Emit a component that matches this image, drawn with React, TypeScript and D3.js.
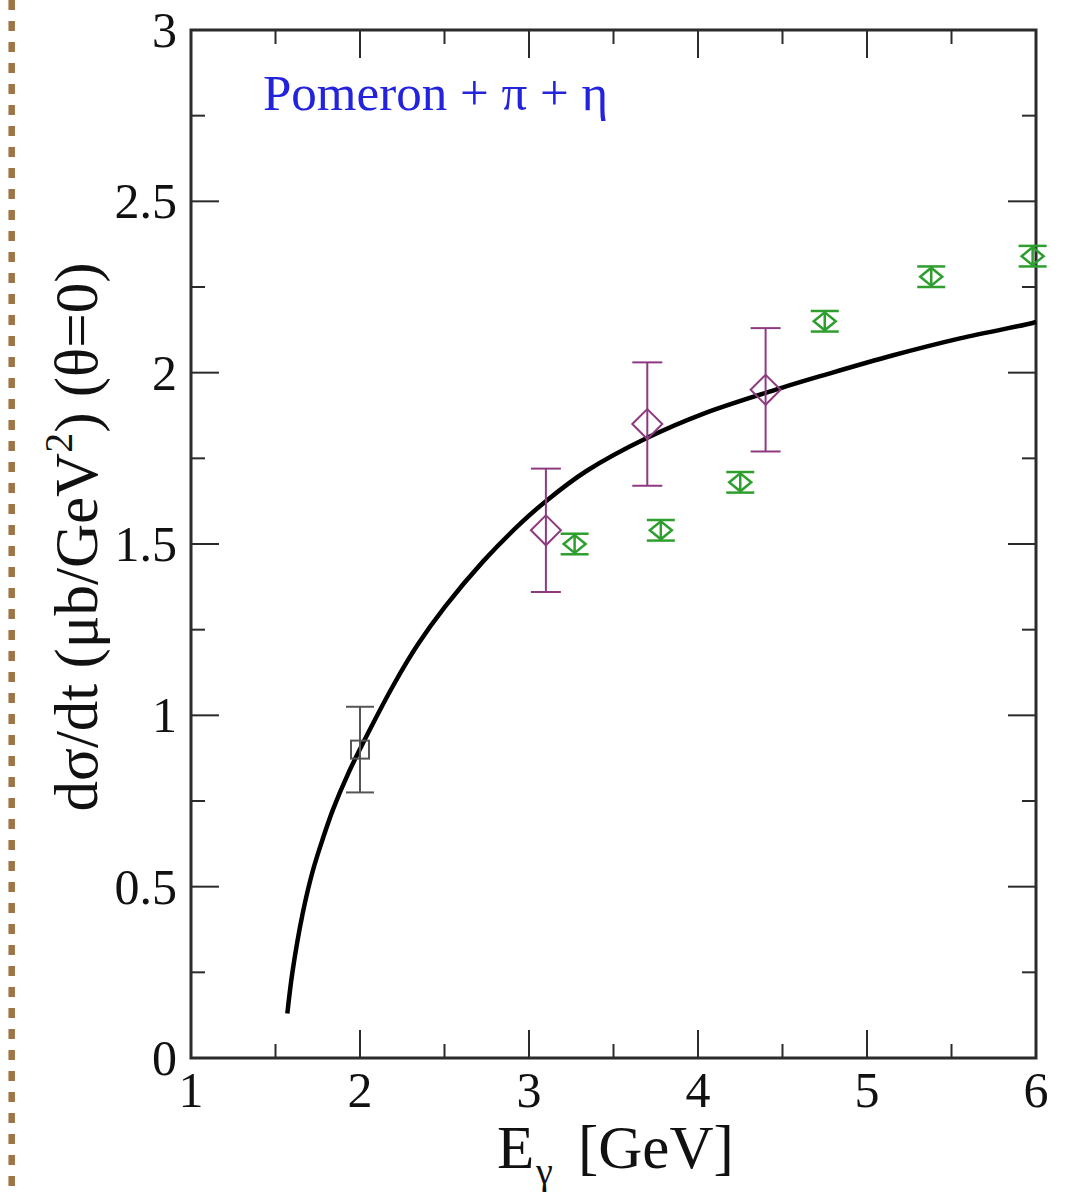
import React from "react";
import * as d3 from "d3";

// Model curve: photon energy (GeV) and forward cross section (µb/GeV²)
const curveEnergy = [1.57, 1.6, 1.66, 1.72, 1.78, 1.84, 1.93, 2.06, 2.2, 2.34, 2.5, 2.73, 2.95, 3.1, 3.34, 3.7, 4.03, 4.49, 4.76, 5.15, 5.55, 5.98, 6.0];
const curveSigma = [0.13, 0.25, 0.42, 0.545, 0.64, 0.725, 0.83, 0.96, 1.09, 1.205, 1.315, 1.45, 1.56, 1.625, 1.713, 1.81, 1.88, 1.955, 1.995, 2.05, 2.1, 2.145, 2.148];

// Data set A (open square)
const squareEnergy = [2.0];
const squareSigma = [0.9];
const squareErr = [0.125];

// Data set B (purple diamonds)
const purpleEnergy = [3.1, 3.7, 4.4];
const purpleSigma = [1.54, 1.85, 1.95];
const purpleErr = [0.18, 0.18, 0.18];

// Data set C (green diamonds)
const greenEnergy = [3.27, 3.78, 4.25, 4.75, 5.38, 5.98];
const greenSigma = [1.5, 1.54, 1.68, 2.15, 2.28, 2.34];
const greenErr = [0.03, 0.03, 0.03, 0.03, 0.03, 0.03];

const xTicks = [1, 2, 3, 4, 5, 6];
const yTicks = [0, 0.5, 1, 1.5, 2, 2.5, 3];
const yTickLabels = ["0", "0.5", "1", "1.5", "2", "2.5", "3"];

const W = 1068;
const H = 1197;
const LEFT = 191;
const RIGHT = 1036;
const TOP = 30;
const BOTTOM = 1058;

const FONT = "'Liberation Serif', 'Times New Roman', serif";

export default function App() {
  const x = d3.scaleLinear().domain([1, 6]).range([LEFT, RIGHT]);
  const y = d3.scaleLinear().domain([0, 3]).range([BOTTOM, TOP]);

  const xMinor = d3.range(1.5, 6, 1);
  const yMinor = d3.range(0.25, 3, 0.5);

  const curvePts = curveEnergy.map((e, i) => [e, curveSigma[i]] as [number, number]);
  const line = d3
    .line<[number, number]>()
    .x((d) => x(d[0]))
    .y((d) => y(d[1]))
    .curve(d3.curveCatmullRom.alpha(0.5));

  const axisColor = "#2b2b2b";
  const majorLen = 28;
  const minorLen = 14;

  const errBar = (
    cx: number,
    v: number,
    err: number,
    capHalf: number,
    color: string,
    sw: number,
    key: string
  ) => (
    <g key={key} stroke={color} strokeWidth={sw} fill="none">
      <line x1={cx} x2={cx} y1={y(v + err)} y2={y(v - err)} />
      <line x1={cx - capHalf} x2={cx + capHalf} y1={y(v + err)} y2={y(v + err)} />
      <line x1={cx - capHalf} x2={cx + capHalf} y1={y(v - err)} y2={y(v - err)} />
    </g>
  );

  const diamond = (cx: number, cy: number, hw: number, hh: number) =>
    `M${cx - hw},${cy}L${cx},${cy - hh}L${cx + hw},${cy}L${cx},${cy + hh}Z`;

  return (
    <svg
      width={W}
      height={H}
      style={{ position: "absolute", left: 0, top: 0, background: "#fff" }}
      fontFamily={FONT}
    >
      <rect x={0} y={0} width={W} height={H} fill="#fff" />
      {/* dotted page border on the left */}
      <line
        x1={11.7}
        x2={11.7}
        y1={0}
        y2={H}
        stroke="#9e7645"
        strokeWidth={6.5}
        strokeDasharray="10 11"
      />

      {/* ticks on all four sides */}
      <g stroke={axisColor} strokeWidth={2}>
        {xTicks.map((t) => (
          <g key={"xt" + t}>
            <line x1={x(t)} x2={x(t)} y1={BOTTOM} y2={BOTTOM - majorLen} />
            <line x1={x(t)} x2={x(t)} y1={TOP} y2={TOP + majorLen} />
          </g>
        ))}
        {xMinor.map((t) => (
          <g key={"xm" + t}>
            <line x1={x(t)} x2={x(t)} y1={BOTTOM} y2={BOTTOM - minorLen} />
            <line x1={x(t)} x2={x(t)} y1={TOP} y2={TOP + minorLen} />
          </g>
        ))}
        {yTicks.map((t) => (
          <g key={"yt" + t}>
            <line x1={LEFT} x2={LEFT + majorLen} y1={y(t)} y2={y(t)} />
            <line x1={RIGHT} x2={RIGHT - majorLen} y1={y(t)} y2={y(t)} />
          </g>
        ))}
        {yMinor.map((t) => (
          <g key={"ym" + t}>
            <line x1={LEFT} x2={LEFT + minorLen} y1={y(t)} y2={y(t)} />
            <line x1={RIGHT} x2={RIGHT - minorLen} y1={y(t)} y2={y(t)} />
          </g>
        ))}
      </g>

      {/* frame */}
      <rect
        x={LEFT}
        y={TOP}
        width={RIGHT - LEFT}
        height={BOTTOM - TOP}
        fill="none"
        stroke={axisColor}
        strokeWidth={3}
      />

      {/* tick labels */}
      <g fontSize={50} fill="#111">
        {xTicks.map((t) => (
          <text key={"xl" + t} x={x(t)} y={BOTTOM + 49} textAnchor="middle">
            {t}
          </text>
        ))}
        {yTicks.map((t, i) => (
          <text
            key={"yl" + t}
            x={LEFT - 14}
            y={y(t)}
            textAnchor="end"
            dominantBaseline="central"
          >
            {yTickLabels[i]}
          </text>
        ))}
      </g>

      {/* axis titles */}
      <text y={1168} fontSize={61} fill="#111">
        <tspan x={497}>E</tspan>
        <tspan x={536} fontSize={38} dy={16}>
          γ
        </tspan>
        <tspan x={578} dy={-16}>
          [GeV]
        </tspan>
      </text>
      <text
        transform={`translate(97,537) rotate(-90)`}
        fontSize={61}
        textAnchor="middle"
        fill="#111"
      >
        dσ/dt (μb/GeV
        <tspan fontSize={40} dy={-25}>
          2
        </tspan>
        <tspan dy={25}>) (θ=0)</tspan>
      </text>

      {/* annotation */}
      <text x={263} y={110} fontSize={51} fill="#2323dd">
        Pomeron + π + η
      </text>

      {/* model curve */}
      <path d={line(curvePts) || ""} fill="none" stroke="#000" strokeWidth={4.5} />

      {/* data set A */}
      {squareEnergy.map((e, i) => {
        const cx = x(e);
        const cy = y(squareSigma[i]);
        return (
          <g key={"sq" + i}>
            {errBar(cx, squareSigma[i], squareErr[i], 14, "#555", 2, "sqe" + i)}
            <rect
              x={cx - 9}
              y={cy - 9}
              width={18}
              height={18}
              fill="none"
              stroke="#555"
              strokeWidth={2}
            />
          </g>
        );
      })}

      {/* data set B */}
      {purpleEnergy.map((e, i) => {
        const cx = x(e);
        const cy = y(purpleSigma[i]);
        return (
          <g key={"pu" + i}>
            {errBar(cx, purpleSigma[i], purpleErr[i], 15, "#8e3a80", 2, "pue" + i)}
            <path d={diamond(cx, cy, 15, 15)} fill="none" stroke="#8e3a80" strokeWidth={2} />
          </g>
        );
      })}

      {/* data set C */}
      {greenEnergy.map((e, i) => {
        const cx = x(e);
        const cy = y(greenSigma[i]);
        return (
          <g key={"gr" + i}>
            {errBar(cx, greenSigma[i], greenErr[i], 14, "#2e9e2e", 2.5, "gre" + i)}
            <path d={diamond(cx, cy, 11, 9)} fill="none" stroke="#2e9e2e" strokeWidth={2.5} />
          </g>
        );
      })}
    </svg>
  );
}
